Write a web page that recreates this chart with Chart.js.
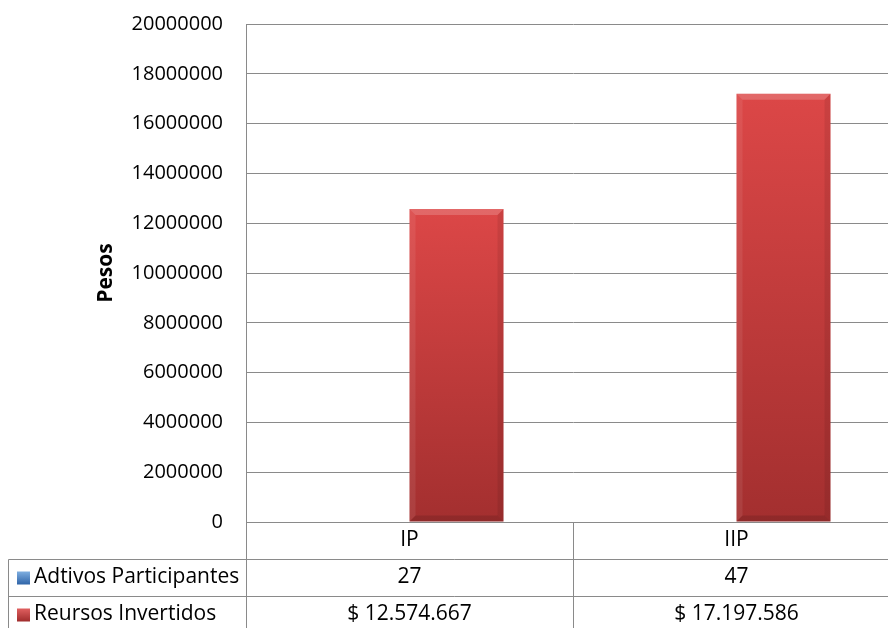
<!DOCTYPE html>
<html>
<head>
<meta charset="utf-8">
<script src="https://cdn.jsdelivr.net/npm/chart.js@4/dist/chart.umd.min.js"></script>
<style>
  html, body { margin: 0; padding: 0; background: #fff; overflow: hidden; }
  #wrap { width: 900px; height: 628px; }
</style>
</head>
<body>
<div id="wrap"><canvas id="chart_pesos" width="900" height="628"></canvas></div>
<script>
// data
const categories = ["IP", "IIP"];
const seriesNames = ["Adtivos Participantes", "Reursos Invertidos"];
const participantes = [27, 47];
const recursos = [12574667, 17197586];
const yMin = 0;
const yMax = 20000000;
const yStep = 2000000;

const gridColor = "#8a8a8a";
const textColor = "#000";
const fontFamily = "'Open Sans', 'Liberation Sans', sans-serif";

function pesos(v) {
  return "$ " + String(v).replace(/\B(?=(\d{3})+(?!\d))/g, ".");
}

function barGradient(ctx, c1, c2) {
  const chart = ctx.chart;
  const y = chart.scales && chart.scales.y;
  if (!chart.chartArea || !y || ctx.parsed == null) return c1;
  const top = y.getPixelForValue(ctx.parsed.y);
  const bottom = y.getPixelForValue(0);
  if (!(bottom > top)) return c1;
  const g = chart.ctx.createLinearGradient(0, top, 0, bottom);
  g.addColorStop(0, c1);
  g.addColorStop(1, c2);
  return g;
}

// soft bevel on the red bars
const bevelPlugin = {
  id: "bevel",
  afterDatasetsDraw(chart) {
    const ctx = chart.ctx;
    const meta = chart.getDatasetMeta(1);
    meta.data.forEach(function (bar) {
      const l = bar.x - bar.width / 2, r = bar.x + bar.width / 2;
      const t = bar.y, b = bar.base, e = 6;
      ctx.save();
      ctx.fillStyle = "rgba(255,255,255,0.18)";
      ctx.beginPath();
      ctx.moveTo(l, t); ctx.lineTo(r, t); ctx.lineTo(r - e, t + e); ctx.lineTo(l + e, t + e);
      ctx.closePath(); ctx.fill();
      ctx.fillStyle = "rgba(0,0,0,0.12)";
      ctx.beginPath();
      ctx.moveTo(l, b); ctx.lineTo(r, b); ctx.lineTo(r - e, b - e); ctx.lineTo(l + e, b - e);
      ctx.closePath(); ctx.fill();
      ctx.fillStyle = "rgba(0,0,0,0.08)";
      ctx.beginPath();
      ctx.moveTo(r, t); ctx.lineTo(r, b); ctx.lineTo(r - e, b - e); ctx.lineTo(r - e, t + e);
      ctx.closePath(); ctx.fill();
      ctx.fillStyle = "rgba(255,255,255,0.08)";
      ctx.beginPath();
      ctx.moveTo(l, t); ctx.lineTo(l, b); ctx.lineTo(l + e, b - e); ctx.lineTo(l + e, t + e);
      ctx.closePath(); ctx.fill();
      ctx.restore();
    });
  },
};

// Excel style data table under the plot
const tablePlugin = {
  id: "dataTable",
  afterDraw(chart) {
    const ctx = chart.ctx;
    const x = chart.scales.x;
    const area = chart.chartArea;
    const rowH = 37;
    const y0 = area.bottom;
    const y1 = y0 + rowH;
    const y2 = y1 + rowH;
    const bottom = chart.height + 5;
    const leftEdge = 8.5;
    const mid = Math.round((x.getPixelForValue(0) + x.getPixelForValue(1)) / 2) + 0.5;
    const axisX = Math.round(area.left) + 0.5;

    ctx.save();
    ctx.strokeStyle = gridColor;
    ctx.lineWidth = 1;
    ctx.beginPath();
    ctx.moveTo(leftEdge, Math.round(y1) + 0.5); ctx.lineTo(chart.width, Math.round(y1) + 0.5);
    ctx.moveTo(leftEdge, Math.round(y2) + 0.5); ctx.lineTo(chart.width, Math.round(y2) + 0.5);
    ctx.moveTo(leftEdge, Math.round(y1) + 0.5); ctx.lineTo(leftEdge, bottom);
    ctx.moveTo(axisX, y0); ctx.lineTo(axisX, bottom);
    ctx.moveTo(mid, y0); ctx.lineTo(mid, bottom);
    ctx.stroke();

    ctx.fillStyle = textColor;
    ctx.font = "21px " + fontFamily;
    ctx.textBaseline = "middle";
    ctx.textAlign = "center";
    categories.forEach(function (c, i) {
      const cx = x.getPixelForValue(i);
      ctx.fillText(c, cx, y0 + rowH / 2);
      ctx.fillText(String(participantes[i]), cx, y1 + rowH / 2);
      ctx.fillText(pesos(recursos[i]), cx, y2 + rowH / 2);
    });

    // row keys
    const keys = [
      ["#7eaee0", "#2f64a8"],
      ["#e06060", "#a02c2c"],
    ];
    [y1, y2].forEach(function (ry, i) {
      const cy = ry + rowH / 2;
      const g = ctx.createLinearGradient(0, cy - 6, 0, cy + 7);
      g.addColorStop(0, keys[i][0]);
      g.addColorStop(1, keys[i][1]);
      ctx.fillStyle = g;
      ctx.fillRect(17, cy - 6, 13, 13);
      ctx.fillStyle = textColor;
      ctx.textAlign = "left";
      ctx.fillText(seriesNames[i], 34, cy);
    });
    ctx.restore();
  },
};

new Chart(document.getElementById("chart_pesos"), {
  type: "bar",
  data: {
    labels: categories,
    datasets: [
      {
        label: seriesNames[0],
        data: participantes,
        backgroundColor: "rgba(79,129,189,0)",
        borderWidth: 0,
      },
      {
        label: seriesNames[1],
        data: recursos,
        backgroundColor: function (ctx) {
          return barGradient(ctx, "#dc4747", "#a32f2f");
        },
        borderWidth: 0,
      },
    ],
  },
  options: {
    responsive: false,
    animation: false,
    categoryPercentage: 0.575,
    barPercentage: 1,
    layout: {
      padding: { top: 24, left: 0, right: 0, bottom: 0 },
    },
    plugins: {
      legend: { display: false },
      tooltip: { enabled: false },
    },
    scales: {
      x: {
        ticks: { display: false },
        grid: { display: false, drawTicks: false },
        border: { display: true, color: gridColor },
        afterFit: function (scale) {
          scale.height = 106;
        },
      },
      y: {
        min: yMin,
        max: yMax,
        ticks: {
          stepSize: yStep,
          padding: 23,
          color: textColor,
          font: { family: fontFamily, size: 20 },
          callback: function (v) {
            return String(v);
          },
        },
        grid: { color: gridColor, drawTicks: false },
        border: { display: true, color: gridColor },
        title: {
          display: true,
          text: "Pesos",
          color: textColor,
          font: { family: fontFamily, size: 21, weight: "bold" },
          padding: { top: 93, bottom: 0 },
        },
        afterFit: function (scale) {
          scale.width = 246;
          scale.paddingTop = 0;
          scale.paddingBottom = 0;
        },
      },
    },
  },
  plugins: [bevelPlugin, tablePlugin],
});
</script>
</body>
</html>
